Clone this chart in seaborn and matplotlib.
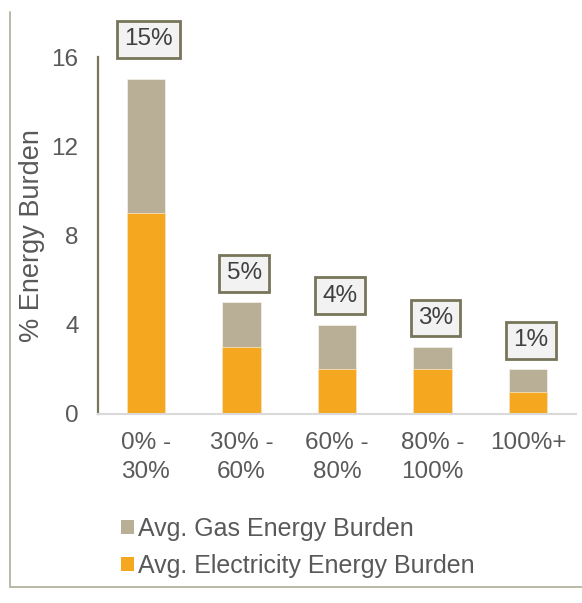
import matplotlib
matplotlib.use("Agg")
import matplotlib.pyplot as plt
from matplotlib.patches import Patch
from matplotlib.lines import Line2D
import seaborn as sns
import pandas as pd

# Income bands (% of area median income)
categories = ["0% -\n30%", "30% -\n60%", "60% -\n80%", "80% -\n100%", "100%+"]
electricity = [9, 3, 2, 2, 1]
gas = [6, 2, 2, 1, 1]
total_labels = ["15%", "5%", "4%", "3%", "1%"]

ORANGE = "#F5A81F"
TAUPE = "#B9AE96"
TEXT = "#595959"
OLIVE = "#77755A"

totals = [e + g for e, g in zip(electricity, gas)]
df = pd.DataFrame({"band": categories, "electricity": electricity, "total": totals})

sns.set_theme(style="white")
plt.rcParams["font.family"] = ["Liberation Sans", "DejaVu Sans"]

fig = plt.figure(figsize=(5.82, 6.03), dpi=100)
ax = fig.add_axes([98 / 582, 1 - 414 / 603, (576 - 98) / 582, (414 - 57) / 603])

# stacked bars: full total in gas colour, electricity drawn over the base
sns.barplot(data=df, x="band", y="total", color=TAUPE, width=0.4, ax=ax,
            edgecolor="#f4efe6", linewidth=0.6, saturation=1)
sns.barplot(data=df, x="band", y="electricity", color=ORANGE, width=0.4, ax=ax,
            edgecolor="#f7e2b8", linewidth=0.6, saturation=1)

ax.set_xlim(-0.5, 4.5)
ax.set_ylim(0, 16)
ax.set_yticks([0, 4, 8, 12, 16])
ax.set_xlabel("")
ax.set_ylabel("% Energy Burden", fontsize=19.5, color=TEXT, labelpad=5)
ax.tick_params(axis="y", labelsize=17.5, colors=TEXT, length=0, pad=14)
ax.tick_params(axis="x", labelsize=17.5, colors=TEXT, length=0, pad=13)
for lbl in ax.get_xticklabels():
    lbl.set_linespacing(1.4)

for side in ["top", "right"]:
    ax.spines[side].set_visible(False)
ax.spines["left"].set_color(OLIVE)
ax.spines["left"].set_linewidth(1.6)
ax.spines["bottom"].set_color("#D9D9D9")
ax.spines["bottom"].set_linewidth(1.5)

# boxed total labels above each stack
offsets = [40, 29, 29, 29, 29]
for i, (t, lab) in enumerate(zip(totals, total_labels)):
    ax.annotate(lab, xy=(i, t), xytext=(2, offsets[i] * 0.72), textcoords="offset points",
                ha="center", va="center", fontsize=17.5, color="#404040",
                bbox=dict(boxstyle="square,pad=0.3", facecolor="#F2F2F2",
                          edgecolor=OLIVE, linewidth=2.0),
                annotation_clip=False)

handles = [Patch(facecolor=TAUPE, edgecolor="none", label="Avg. Gas Energy Burden"),
           Patch(facecolor=ORANGE, edgecolor="none", label="Avg. Electricity Energy Burden")]
fig.legend(handles=handles, loc="upper left", bbox_to_anchor=(111 / 582, 1 - 507 / 603),
           frameon=False, fontsize=18, labelcolor=TEXT, handlelength=0.5,
           handleheight=0.5, handletextpad=0.18, labelspacing=0.5, borderaxespad=0)

# outer frame lines
fig.add_artist(Line2D([10 / 582, 10 / 582], [1 - 12 / 603, 1 - 587 / 603],
                      transform=fig.transFigure, color="#BAB8A6", linewidth=1.4))
fig.add_artist(Line2D([10 / 582, 1.0], [1 - 587 / 603, 1 - 587 / 603],
                      transform=fig.transFigure, color="#BAB8A6", linewidth=1.4))

fig.savefig("out.png", dpi=100)
